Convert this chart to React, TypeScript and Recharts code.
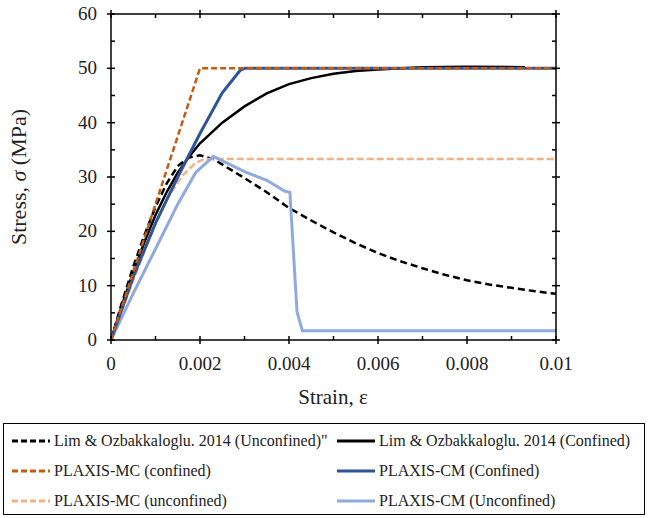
import React from 'react';
import { LineChart, Line, XAxis, YAxis } from 'recharts';

type Pt = { strain: number; stress: number };

const limUnconfined: Pt[] = [
  { strain: 0, stress: 0 }, { strain: 0.00025, stress: 7 }, { strain: 0.0005, stress: 13.5 },
  { strain: 0.00075, stress: 19.3 }, { strain: 0.001, stress: 24.5 }, { strain: 0.00125, stress: 28.8 },
  { strain: 0.0015, stress: 32 }, { strain: 0.00175, stress: 33.6 }, { strain: 0.002, stress: 34 },
  { strain: 0.0023, stress: 33.3 }, { strain: 0.0026, stress: 31.8 }, { strain: 0.003, stress: 29.8 },
  { strain: 0.0035, stress: 27.2 }, { strain: 0.004, stress: 24.3 }, { strain: 0.0045, stress: 22 },
  { strain: 0.005, stress: 19.8 }, { strain: 0.0055, stress: 17.8 }, { strain: 0.006, stress: 16 },
  { strain: 0.0065, stress: 14.5 }, { strain: 0.007, stress: 13.2 }, { strain: 0.0075, stress: 12 },
  { strain: 0.008, stress: 11 }, { strain: 0.0085, stress: 10.2 }, { strain: 0.009, stress: 9.6 },
  { strain: 0.0095, stress: 9 }, { strain: 0.01, stress: 8.5 },
];

const limConfined: Pt[] = [
  { strain: 0, stress: 0 }, { strain: 0.00025, stress: 6.5 }, { strain: 0.0005, stress: 12.5 },
  { strain: 0.00075, stress: 18 }, { strain: 0.001, stress: 23 }, { strain: 0.00125, stress: 27.2 },
  { strain: 0.0015, stress: 30.8 }, { strain: 0.00175, stress: 33.7 }, { strain: 0.002, stress: 36.2 },
  { strain: 0.0025, stress: 40 }, { strain: 0.003, stress: 43 }, { strain: 0.0035, stress: 45.4 },
  { strain: 0.004, stress: 47.1 }, { strain: 0.0045, stress: 48.2 }, { strain: 0.005, stress: 49 },
  { strain: 0.0055, stress: 49.5 }, { strain: 0.006, stress: 49.8 }, { strain: 0.007, stress: 50.2 },
  { strain: 0.008, stress: 50.3 }, { strain: 0.0093, stress: 50.2 },
];

const mcConfined: Pt[] = [
  { strain: 0, stress: 0 }, { strain: 0.002, stress: 50 }, { strain: 0.01, stress: 50 },
];

const mcUnconfined: Pt[] = [
  { strain: 0, stress: 0 }, { strain: 0.0005, stress: 11 }, { strain: 0.001, stress: 21.5 },
  { strain: 0.0013, stress: 26.5 }, { strain: 0.0016, stress: 30.2 }, { strain: 0.0019, stress: 32.6 },
  { strain: 0.0021, stress: 33.3 }, { strain: 0.01, stress: 33.3 },
];

const cmConfined: Pt[] = [
  { strain: 0, stress: 0 }, { strain: 0.0005, stress: 11.6 }, { strain: 0.001, stress: 21.5 },
  { strain: 0.0015, stress: 30 }, { strain: 0.002, stress: 38 }, { strain: 0.0025, stress: 45.5 },
  { strain: 0.0029, stress: 49.6 }, { strain: 0.003, stress: 50 }, { strain: 0.01, stress: 50 },
];

const cmUnconfined: Pt[] = [
  { strain: 0, stress: 0 }, { strain: 0.0005, stress: 8.6 }, { strain: 0.0011, stress: 18.4 },
  { strain: 0.0015, stress: 25 }, { strain: 0.0019, stress: 30.8 }, { strain: 0.0023, stress: 33.8 },
  { strain: 0.003, stress: 31 }, { strain: 0.0035, stress: 29.4 }, { strain: 0.0039, stress: 27.4 },
  { strain: 0.00402, stress: 27.2 }, { strain: 0.00418, stress: 5.2 }, { strain: 0.0043, stress: 1.7 },
  { strain: 0.01, stress: 1.7 },
];

const xTicks = [0, 0.001, 0.002, 0.003, 0.004, 0.005, 0.006, 0.007, 0.008, 0.009, 0.01];
const xTickLabels = ['0', '0.002', '0.004', '0.006', '0.008', '0.01'];
const yTicks = [0, 5, 10, 15, 20, 25, 30, 35, 40, 45, 50, 55, 60];
const yTickLabels = ['0', '10', '20', '30', '40', '50', '60'];

const seriesNames = [
  'Lim & Ozbakkaloglu. 2014 (Unconfined)"',
  'Lim & Ozbakkaloglu. 2014 (Confined)',
  'PLAXIS-MC (confined)',
  'PLAXIS-CM (Confined)',
  'PLAXIS-MC (unconfined)',
  'PLAXIS-CM (Unconfined)',
];

const legendColors = ['#000000', '#000000', '#C55A11', '#2F5597', '#F4B183', '#8FAADC'];
const legendDashed = [true, false, true, false, true, false];

function BottomTick(props: any) {
  const { x, y, index } = props;
  const major = index % 2 === 0;
  return (
    <g>
      <line x1={x} x2={x} y1={y - 4} y2={major ? y + 4 : y} stroke="#000" strokeWidth={1.5} />
      {major ? (
        <text x={x} y={y + 30} textAnchor="middle" fontFamily="Liberation Serif" fontSize={19} fill="#222">
          {xTickLabels[index / 2]}
        </text>
      ) : null}
    </g>
  );
}

function TopTick(props: any) {
  const { x, y, index } = props;
  const major = index % 2 === 0;
  return <line x1={x} x2={x} y1={major ? y - 4 : y} y2={y + 4} stroke="#000" strokeWidth={1.5} />;
}

function LeftTick(props: any) {
  const { x, y, index } = props;
  const major = index % 2 === 0;
  return (
    <g>
      <line x1={major ? x - 4 : x} x2={x + 4} y1={y} y2={y} stroke="#000" strokeWidth={1.5} />
      {major ? (
        <text x={x - 14} y={y + 6} textAnchor="end" fontFamily="Liberation Serif" fontSize={19} fill="#222">
          {yTickLabels[index / 2]}
        </text>
      ) : null}
    </g>
  );
}

function RightTick(props: any) {
  const { x, y, index } = props;
  const major = index % 2 === 0;
  return <line x1={x - 4} x2={major ? x + 4 : x} y1={y} y2={y} stroke="#000" strokeWidth={1.5} />;
}

export default function App() {
  const axisLine = { stroke: '#000', strokeWidth: 1.5 };
  return (
    <div style={{ position: 'absolute', left: 0, top: 0, width: 648, height: 518, background: '#fff' }}>
      <LineChart width={648} height={420} margin={{ top: 13, right: 91, bottom: 0, left: 0 }}>
        <XAxis
          dataKey="strain"
          type="number"
          domain={[0, 0.01]}
          ticks={xTicks}
          interval={0}
          height={80}
          tickSize={0}
          tickMargin={0}
          tickLine={false}
          axisLine={axisLine}
          tick={<BottomTick />}
          allowDataOverflow
        />
        <XAxis
          xAxisId="top"
          orientation="top"
          dataKey="strain"
          type="number"
          domain={[0, 0.01]}
          ticks={xTicks}
          interval={0}
          height={1}
          tickSize={0}
          tickMargin={0}
          tickLine={false}
          axisLine={axisLine}
          tick={<TopTick />}
          allowDataOverflow
        />
        <YAxis
          type="number"
          domain={[0, 60]}
          ticks={yTicks}
          interval={0}
          width={111}
          tickSize={0}
          tickMargin={0}
          tickLine={false}
          axisLine={axisLine}
          tick={<LeftTick />}
          allowDataOverflow
        />
        <YAxis
          yAxisId="right"
          orientation="right"
          type="number"
          domain={[0, 60]}
          ticks={yTicks}
          interval={0}
          width={1}
          tickSize={0}
          tickMargin={0}
          tickLine={false}
          axisLine={axisLine}
          tick={<RightTick />}
          allowDataOverflow
        />
        <Line data={limUnconfined} dataKey="stress" type="linear" stroke="#000000" strokeWidth={2.5} strokeDasharray="7 4" dot={false} activeDot={false} isAnimationActive={false} />
        <Line data={limConfined} dataKey="stress" type="linear" stroke="#000000" strokeWidth={2.5} dot={false} activeDot={false} isAnimationActive={false} />
        <Line data={mcUnconfined} dataKey="stress" type="linear" stroke="#F4B183" strokeWidth={2.5} strokeDasharray="7 3" dot={false} activeDot={false} isAnimationActive={false} />
        <Line data={cmUnconfined} dataKey="stress" type="linear" stroke="#8FAADC" strokeWidth={3} dot={false} activeDot={false} isAnimationActive={false} />
        <Line data={cmConfined} dataKey="stress" type="linear" stroke="#2F5597" strokeWidth={3} dot={false} activeDot={false} isAnimationActive={false} />
        <Line data={mcConfined} xAxisId="top" yAxisId="right" dataKey="stress" type="linear" stroke="#C55A11" strokeWidth={2.5} strokeDasharray="6 3" dot={false} activeDot={false} isAnimationActive={false} />
      </LineChart>
      <svg width={648} height={420} style={{ position: 'absolute', left: 0, top: 0, pointerEvents: 'none' }}>
        <text x={0} y={0} transform="translate(26,177) rotate(-90)" textAnchor="middle" fontFamily="Liberation Serif" fontSize={22} fill="#222">
          Stress, <tspan fontStyle="italic">σ</tspan> (MPa)
        </text>
        <text x={333} y={404} textAnchor="middle" fontFamily="Liberation Serif" fontSize={21} fill="#222">
          Strain, ε
        </text>
      </svg>
      <div
        style={{
          position: 'absolute',
          left: 3,
          top: 423,
          width: 640,
          height: 90,
          border: '1.5px solid #000',
          fontFamily: 'Liberation Serif',
          fontSize: 16,
          color: '#222',
        }}
      >
        {seriesNames.map((name, i) => {
          const col = i % 2;
          const row = Math.floor(i / 2);
          const left = col === 0 ? 7 : 332;
          const top = 5 + row * 30;
          return (
            <div key={i} style={{ position: 'absolute', left, top, height: 24, display: 'flex', alignItems: 'center', whiteSpace: 'nowrap' }}>
              <svg width={40} height={24}>
                <line x1={1} x2={39} y1={12} y2={12} stroke={legendColors[i]} strokeWidth={3} strokeDasharray={legendDashed[i] ? '6 3' : undefined} />
              </svg>
              <span style={{ marginLeft: 3 }}>{name}</span>
            </div>
          );
        })}
      </div>
    </div>
  );
}
